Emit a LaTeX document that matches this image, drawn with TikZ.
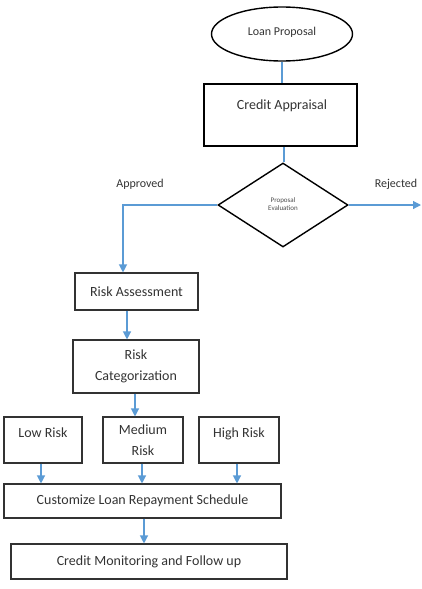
\documentclass[tikz,border=0pt]{standalone}
\usepackage{fontspec}
\setmainfont{Carlito}
\usetikzlibrary{shapes.geometric,arrows.meta}
\definecolor{arr}{RGB}{91,155,213}
\definecolor{bd}{RGB}{50,50,50}
\tikzset{
  box/.style={draw=bd,line width=1.1pt,rectangle,inner sep=0pt,text=black!80},
  con/.style={draw=arr,line width=1.2pt},
  arw/.style={con,-{Triangle[width=8pt,length=8pt]}},
  big/.style={font=\fontsize{14}{21}\selectfont,text=black!80},
  mid/.style={font=\fontsize{12}{14}\selectfont,text=black!80}
}
\begin{document}
\begin{tikzpicture}[x=1pt,y=-1pt]
\useasboundingbox (0,0) rectangle (421,589);
\node[draw=black,line width=1.4pt,ellipse,minimum width=141pt,minimum height=54pt,inner sep=0pt] (lp) at (282,34) {};
\node[mid] at (282,32) {Loan Proposal};
\node[box,line width=1.9pt,draw=black,minimum width=153pt,minimum height=62pt] (ca) at (280.5,115) {};
\node[big] at (282,106) {Credit Appraisal};
\node[draw=black,line width=1.4pt,diamond,minimum width=130pt,minimum height=84pt,inner sep=0pt,aspect=1.55] (pe) at (283,205) {};
\node[font=\fontsize{7}{8.5}\selectfont,align=center,text=black!70] at (283,204) {Proposal\\Evaluation};
\node[mid] at (140,184) {Approved};
\node[mid] at (396,184) {Rejected};
\coordinate (rj) at (421,205);
\coordinate (bend) at (123,205);
\node[box,big,minimum width=123pt,minimum height=37pt] (ra) at (136.5,291.5) {Risk Assessment};
\node[box,big,minimum width=126pt,minimum height=53pt,align=center] (rc) at (136,366.5) {Risk\\Categorization};
\node[box,minimum width=78pt,minimum height=46pt] (lr) at (43,440) {};
\node[big] at (43,433) {Low Risk};
\node[box,big,minimum width=80pt,minimum height=46pt,align=center] (mr) at (143,440) {Medium\\Risk};
\node[box,minimum width=80pt,minimum height=46pt] (hr) at (239,440) {};
\node[big] at (239,434) {High Risk};
\node[box,big,minimum width=277pt,minimum height=34pt] (cs) at (142.5,501) {Customize Loan Repayment Schedule};
\node[box,big,minimum width=276pt,minimum height=35pt] (cm) at (149,561.5) {Credit Monitoring and Follow up};
\draw[con] (lp.south) -- (lp.south |- ca.north);
\draw[con] (ca.south -| 284,0) -- (pe.north -| 284,0);
\draw[arw] (pe.east) -- (rj);
\draw[arw] (pe.west) -- (bend) -- (bend |- ra.north);
\draw[arw] (ra.south -| 127,0) -- (rc.north -| 127,0);
\draw[arw] (rc.south -| 135,0) -- (mr.north -| 135,0);
\draw[arw] (lr.south -| 41,0) -- (cs.north -| 41,0);
\draw[arw] (mr.south -| 142,0) -- (cs.north -| 142,0);
\draw[arw] (hr.south -| 237,0) -- (cs.north -| 237,0);
\draw[arw] (cs.south -| 144,0) -- (cm.north -| 144,0);
\end{tikzpicture}
\end{document}
